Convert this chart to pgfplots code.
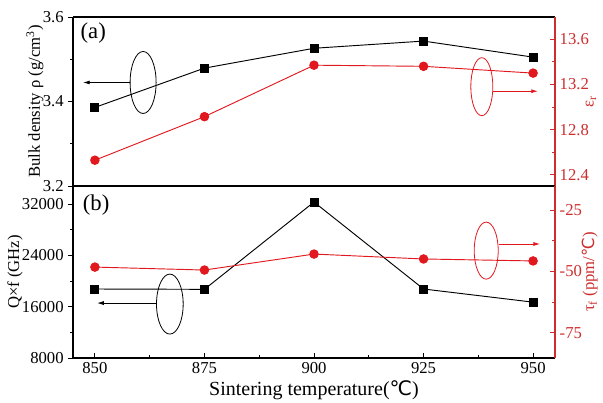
\documentclass[border=0pt]{standalone}
\usepackage{fontspec}
\setmainfont{Liberation Serif}
\newfontfamily\dejavu{DejaVu Sans}
\usepackage{pgfplots}
\pgfplotsset{compat=1.18}
\usetikzlibrary{arrows.meta}
\definecolor{cred}{RGB}{225,25,30}
\definecolor{axred}{RGB}{205,45,45}

\pgfplotsset{
  base/.style={
    scale only axis, width=361.5pt, xmin=845, xmax=955,
    /pgf/number format/assume math mode=true,
    tick label style={font=\fontsize{12.5}{14}\selectfont},
    label style={font=\fontsize{12.5}{14}\selectfont},
    major tick length=3.5pt, minor tick length=2.2pt,
    axis line style={line width=0.9pt},
    every tick/.style={line width=0.7pt},
  },
  % labels are rotated by 90 degrees, so yshift moves them sideways
  leftlab/.style={ylabel style={at={(rel axis cs:0,0.5)}, yshift=#1, anchor=center}},
  rightlab/.style={ylabel style={at={(rel axis cs:1,0.5)}, yshift=-#1, anchor=center, axred}},
  onedec/.style={yticklabel style={/pgf/number format/fixed, /pgf/number format/fixed zerofill, /pgf/number format/precision=1}},
  blk/.style={black, line width=0.7pt, mark=square*, mark size=3pt},
  red/.style={cred, line width=0.7pt, mark=*, mark size=3.2pt},
}

\begin{document}
\begin{tikzpicture}
\path[use as bounding box] (-54.75pt,-33.75pt) rectangle (397.5pt,268.5pt);

% ---------- (a) ----------
\begin{axis}[base, onedec, leftlab=28.5pt, at={(0,129pt)}, anchor=south west, height=126.75pt,
  axis x line*=box, axis y line*=left, tick align=outside,
  ymin=3.2, ymax=3.6, ytick={3.2,3.4,3.6}, minor y tick num=1,
  xtick=\empty,
  ylabel={Bulk density ρ (g/cm\textsuperscript{3})}]
\addplot[blk] coordinates {(850,3.386)(875,3.479)(900,3.526)(925,3.543)(950,3.505)};
\node[font=\fontsize{17}{19}\selectfont] at (rel axis cs:0.042,0.905) {(a)};
\draw[black, line width=0.6pt] (axis cs:861,3.445) ellipse [x radius=9.75pt, y radius=23.25pt];
\draw[black, line width=0.6pt, -{Latex[length=5pt,width=3pt]}] (axis cs:858.1,3.445) -- (axis cs:847.3,3.445);
\end{axis}
\begin{axis}[base, onedec, rightlab=27pt, at={(0,129pt)}, anchor=south west, height=126.75pt,
  axis x line=none, axis y line*=right, tick align=inside,
  y axis line style={axred}, y tick style={axred},
  yticklabel style={axred},
  ymin=12.302, ymax=13.796, ytick={12.4,12.8,13.2,13.6}, minor y tick num=1,
  ylabel={ε\textsubscript{r}}]
\addplot[red] coordinates {(850,12.53)(875,12.915)(900,13.37)(925,13.36)(950,13.30)};
\draw[cred, line width=0.6pt] (axis cs:938.3,13.18) ellipse [x radius=8.25pt, y radius=21.75pt];
\draw[cred, line width=0.6pt, -{Latex[length=5pt,width=3pt]}] (axis cs:940.9,13.14) -- (axis cs:951.1,13.14);
\end{axis}

% ---------- (b) ----------
\begin{axis}[base, leftlab=43.5pt, at={(0,0)}, anchor=south west, height=129pt,
  axis x line*=box, axis y line*=left, tick align=outside,
  ymin=8000, ymax=34800, ytick={8000,16000,24000,32000}, minor y tick num=1,
  scaled y ticks=false,
  yticklabel style={/pgf/number format/fixed, /pgf/number format/1000 sep={}},
  xtick=\empty,
  ylabel={Q×f (GHz)}]
\addplot[blk] coordinates {(850,18750)(875,18700)(900,32300)(925,18750)(950,16700)};
\node[font=\fontsize{17}{19}\selectfont] at (rel axis cs:0.048,0.89) {(b)};
\draw[black, line width=0.6pt] (axis cs:867.1,16400) ellipse [x radius=10pt, y radius=22.5pt];
\draw[black, line width=0.6pt, -{Latex[length=5pt,width=3pt]}] (axis cs:864.2,16560) -- (axis cs:850.5,16560);
\end{axis}
\begin{axis}[base, rightlab=26pt, at={(0,0)}, anchor=south west, height=129pt,
  axis x line*=bottom, axis y line*=right, tick align=inside,
  y axis line style={axred}, y tick style={axred}, x tick style={black},
  yticklabel style={axred},
  xlabel style={at={(rel axis cs:0.5,0)}, yshift=-24pt, anchor=center, font=\fontsize{15}{17}\selectfont},
  ymin=-85.2, ymax=-15.2, ytick={-75,-50,-25}, yticklabels={-75,-50,-25},
  minor y tick num=1,
  xtick={850,875,900,925,950}, minor x tick num=1,
  xlabel={Sintering temperature({\dejavu ℃})},
  ylabel={τ\textsubscript{f} (ppm/{\dejavu ℃})}]
\addplot[red] coordinates {(850,-48.2)(875,-49.4)(900,-42.9)(925,-44.9)(950,-45.7)};
\draw[cred, line width=0.6pt] (axis cs:939.3,-41.5) ellipse [x radius=9pt, y radius=21.4pt];
\draw[cred, line width=0.6pt, -{Latex[length=5pt,width=3pt]}] (axis cs:942.2,-38.8) -- (axis cs:951.6,-38.8);
\end{axis}
\end{tikzpicture}
\end{document}
